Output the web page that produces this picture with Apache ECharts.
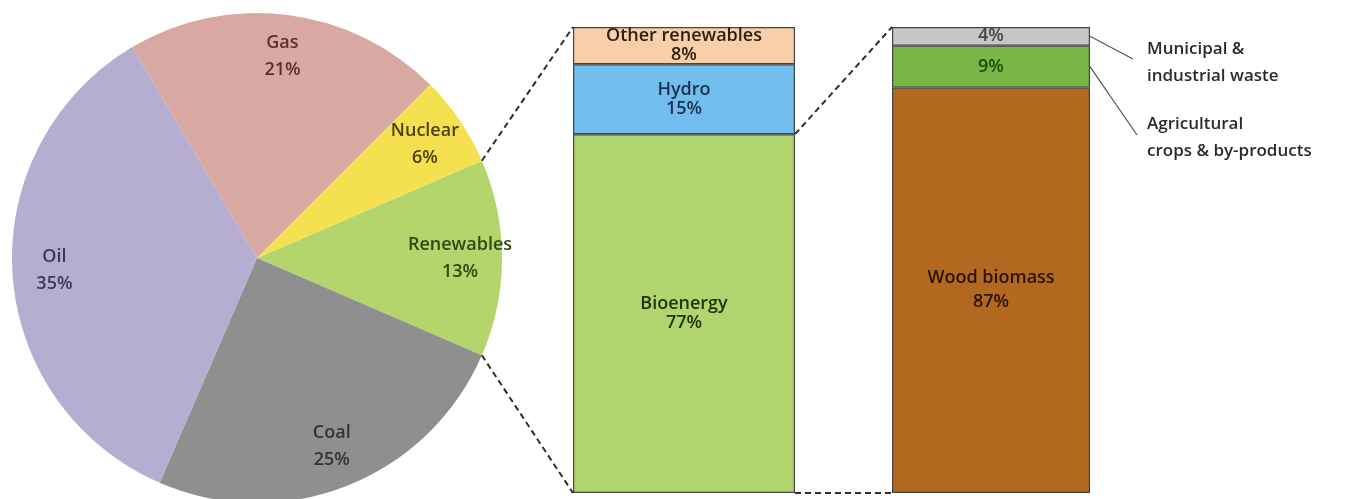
<!DOCTYPE html>
<html>
<head>
<meta charset="utf-8">
<script src="https://cdn.jsdelivr.net/npm/echarts@6/dist/echarts.min.js"></script>
<style>
html,body{margin:0;padding:0;background:#fff;}
#c{width:1354px;height:499px;}
</style>
</head>
<body>
<div id="c"></div>
<script>
// ---- data ----
const pieNames = ['Renewables', 'Coal', 'Oil', 'Gas', 'Nuclear'];
const pieValues = [13, 25, 35, 21, 6];
const renewNames = ['Bioenergy', 'Hydro', 'Other renewables'];
const renewValues = [77, 15, 8];
const bioNames = ['Wood biomass', 'Agricultural\ncrops & by-products', 'Municipal &\nindustrial waste'];
const bioValues = [87, 9, 4];

// ---- styles ----
const pieColors = ['#b3d56c', '#8f8f8f', '#b6aed1', '#d8a8a3', '#f5e14f'];
const pieLabelColors = ['#2e4a12', '#333333', '#3b3858', '#5a3030', '#4a4210'];
const renewColors = ['#b1d56e', '#72bcee', '#f8cfa9'];
const renewLabelColors = ['#23330c', '#17314f', '#2e2010'];
const bioColors = ['#b2691f', '#79b547', '#c7c7c7'];
const bioLabelColors = ['#2a1304', '#1f4a0c', '#444444'];
const FONT = '"Open Sans", sans-serif';
const FS = 18;

const chart = echarts.init(document.getElementById('c'), null, {renderer: 'canvas'});

const PIE_C = [257, 258];
const PIE_R = 245;
const START = pieValues[0] / 100 * 360 / 2;

const series = [];
series.push({
  type: 'pie', center: PIE_C, radius: PIE_R, startAngle: START, clockwise: true,
  silent: true, animation: false, label: {show: false}, labelLine: {show: false},
  data: pieNames.map((n, i) => ({name: n, value: pieValues[i], itemStyle: {color: pieColors[i]}}))
});
series.push({
  type: 'pie', center: PIE_C, radius: [155, PIE_R], startAngle: START, clockwise: true,
  silent: true, animation: false, labelLine: {show: false},
  itemStyle: {color: 'rgba(0,0,0,0)'},
  label: {show: true, position: 'inside', formatter: '{b}\n{c}%', fontFamily: FONT, fontSize: FS, fontWeight: 600, lineHeight: 27},
  data: pieNames.map((n, i) => ({name: n, value: pieValues[i], label: {color: pieLabelColors[i]}}))
});
renewNames.forEach((n, i) => {
  series.push({
    type: 'bar', name: n, stack: 'r', xAxisIndex: 0, yAxisIndex: 0, barWidth: '100%',
    animation: false, silent: true,
    itemStyle: {color: renewColors[i], borderColor: '#444444', borderWidth: 1.2},
    label: {show: true, position: 'inside', formatter: '{a}\n{c}%', color: renewLabelColors[i],
      fontFamily: FONT, fontSize: FS, fontWeight: 600, lineHeight: 19},
    data: [renewValues[i]]
  });
});
bioNames.forEach((n, i) => {
  series.push({
    type: 'bar', name: n, stack: 'b', xAxisIndex: 1, yAxisIndex: 1, barWidth: '100%',
    animation: false, silent: true,
    itemStyle: {color: bioColors[i], borderColor: '#444444', borderWidth: 1.2},
    label: {show: true, position: 'inside', formatter: i === 0 ? '{a}\n{c}%' : '{c}%', color: bioLabelColors[i],
      fontFamily: FONT, fontSize: FS, fontWeight: 600, lineHeight: 24},
    data: [bioValues[i]]
  });
});

const G1 = {left: 573, top: 27, width: 222, height: 466};
const G2 = {left: 892, top: 27, width: 198, height: 466};

chart.setOption({
  backgroundColor: '#ffffff',
  animation: false,
  grid: [G1, G2],
  xAxis: [
    {gridIndex: 0, type: 'category', data: [''], show: false},
    {gridIndex: 1, type: 'category', data: [''], show: false}
  ],
  yAxis: [
    {gridIndex: 0, type: 'value', min: 0, max: 100, show: false},
    {gridIndex: 1, type: 'value', min: 0, max: 100, show: false}
  ],
  series: series
});

// ---- connectors and annotations derived from the drawn geometry ----
const rad = d => d * Math.PI / 180;
const a1 = START, a2 = START - pieValues[0] / 100 * 360;
const pTop = [PIE_C[0] + PIE_R * Math.cos(rad(a1)), PIE_C[1] - PIE_R * Math.sin(rad(a1))];
const pBot = [PIE_C[0] + PIE_R * Math.cos(rad(a2)), PIE_C[1] - PIE_R * Math.sin(rad(a2))];
const y0Top = chart.convertToPixel({yAxisIndex: 0}, 100);
const y0Bot = chart.convertToPixel({yAxisIndex: 0}, 0);
const y0Bio = chart.convertToPixel({yAxisIndex: 0}, renewValues[0]);
const y1Top = chart.convertToPixel({yAxisIndex: 1}, 100);
const y1Bot = chart.convertToPixel({yAxisIndex: 1}, 0);
const L0 = G1.left, R0 = G1.left + G1.width, L1 = G2.left, R1 = G2.left + G2.width;

const dash = {stroke: '#2f2f2f', lineWidth: 2, lineDash: [6, 4]};
const graphics = [
  {type: 'line', shape: {x1: pTop[0], y1: pTop[1], x2: L0, y2: y0Top}, style: dash, z: 10},
  {type: 'line', shape: {x1: pBot[0], y1: pBot[1], x2: L0, y2: y0Bot}, style: dash, z: 10},
  {type: 'line', shape: {x1: R0, y1: y0Bio, x2: L1, y2: y1Top}, style: dash, z: 10},
  {type: 'line', shape: {x1: R0, y1: y0Bot, x2: L1, y2: y1Bot}, style: dash, z: 10}
];
// annotation labels for the two small segments
const annot = [
  {idx: 2, tx: 1147, ty: 36, lx: 1133, ly: 59},
  {idx: 1, tx: 1147, ty: 111, lx: 1137, ly: 135}
];
let cum = 0;
const mids = bioValues.map(v => { const m = cum + v / 2; cum += v; return m; });
annot.forEach(a => {
  const ym = chart.convertToPixel({yAxisIndex: 1}, mids[a.idx]);
  graphics.push({type: 'line', shape: {x1: R1, y1: ym, x2: a.lx, y2: a.ly}, style: {stroke: '#555', lineWidth: 1.2}, z: 10});
  graphics.push({type: 'text', x: a.tx, y: a.ty, style: {text: bioNames[a.idx], fill: '#2b2b2b',
    font: '600 17px ' + FONT, lineHeight: 27}, z: 10});
});
chart.setOption({graphic: graphics});
</script>
</body>
</html>
